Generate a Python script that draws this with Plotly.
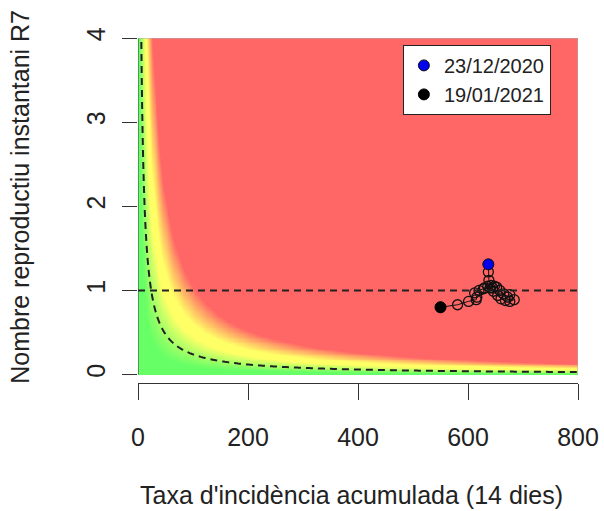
import numpy as np
import plotly.graph_objects as go

# trajectory 23/12/2020 -> 19/01/2021 (IA14, R7)
ia14 = [637, 637, 638, 642, 648, 636, 630, 645, 652, 658, 665, 672, 676, 684,
        676, 668, 660, 654, 646, 640, 628, 620, 612, 616, 615, 601, 581, 550]
r7 = [1.31, 1.22, 1.12, 1.06, 1.05, 1.05, 1.03, 1.03, 1.04, 1.00, 0.96, 0.92, 0.95, 0.89,
      0.87, 0.88, 0.90, 0.94, 0.99, 1.03, 1.02, 1.00, 0.97, 0.92, 0.89, 0.87, 0.83, 0.80]
first_label = "23/12/2020"
last_label = "19/01/2021"

x_ticks = [0, 200, 400, 600, 800]
y_ticks = [0, 1, 2, 3, 4]
epg_curve = 24  # level of the dashed hyperbola (IA14 * R7)

# background risk surface: IA14 * R7
gx = np.arange(2, 800, 4)
gy = np.arange(0.01, 4.0, 0.02)
gz = np.outer(gy, gx)

risk_scale = [[0, "#66FF66"], [0.08, "#66FF66"], [0.375, "#FFFF66"],
              [0.5, "#FFFF66"], [0.875, "#FF6666"], [1, "#FF6666"]]

fig = go.Figure()
fig.add_trace(go.Heatmap(x=gx, y=gy, z=gz, zmin=0, zmax=120, colorscale=risk_scale,
                         zsmooth="best", showscale=False, hoverinfo="skip"))
fig.add_trace(go.Contour(x=gx, y=gy, z=gz, autocontour=False,
                         contours=dict(start=epg_curve, end=epg_curve, size=1, coloring="none"),
                         line=dict(color="#222", width=2, dash="7px,5px"),
                         showscale=False, showlegend=False, hoverinfo="skip"))
fig.add_trace(go.Scatter(x=ia14, y=r7, mode="lines+markers", showlegend=False,
                         line=dict(color="#111", width=1),
                         marker=dict(size=10, color="rgba(0,0,0,0)", line=dict(color="#111", width=1.3))))
fig.add_trace(go.Scatter(x=ia14[:1], y=r7[:1], mode="markers", name=first_label,
                         marker=dict(size=11, color="#0000EE", line=dict(color="#111", width=1))))
fig.add_trace(go.Scatter(x=ia14[-1:], y=r7[-1:], mode="markers", name=last_label,
                         marker=dict(size=11, color="#000", line=dict(color="#000", width=1))))

# R = 1 reference line, y-axis line and border of the surface
fig.add_shape(type="line", x0=0, x1=800, y0=1, y1=1, xref="x", yref="y",
              line=dict(color="#222", width=2, dash="7px,5px"))
fig.add_shape(type="line", x0=0, x1=0, y0=0, y1=4, xref="x", yref="y",
              line=dict(color="#333", width=1))
fig.add_shape(type="line", x0=0, x1=800, y0=4, y1=4, xref="x", yref="y",
              line=dict(color="#aaa", width=1))
fig.add_shape(type="line", x0=800, x1=800, y0=0, y1=4, xref="x", yref="y",
              line=dict(color="#aaa", width=1))

font_family = "Liberation Sans, Arial, sans-serif"
fig.update_layout(
    width=604, height=511,
    margin=dict(l=138, r=26, t=38, b=128),
    plot_bgcolor="white", paper_bgcolor="white",
    font=dict(family=font_family, color="#222", size=25),
    showlegend=True,
    legend=dict(x=0.602, y=0.98, xanchor="left", yanchor="top",
                bgcolor="white", bordercolor="#222", borderwidth=1,
                font=dict(size=20, color="#222"), tracegroupgap=2),
    xaxis=dict(range=[0, 800], tickvals=x_ticks, showgrid=False, zeroline=False,
               showline=True, linecolor="#333", linewidth=1, automargin=False,
               ticks="outside", ticklen=16, tickcolor="#333", ticklabelstandoff=16),
    yaxis=dict(range=[-0.1, 4], tickvals=y_ticks, showgrid=False, zeroline=False,
               showline=False, ticks="outside", ticklen=15, tickcolor="#333",
               tickangle=-90, ticklabelstandoff=7, automargin=False),
)
fig.add_annotation(text="Taxa d'incidència acumulada (14 dies)", xref="paper", yref="paper",
                   x=0.486, y=-0.325, showarrow=False, xanchor="center", yanchor="middle",
                   font=dict(size=25))
fig.add_annotation(text="Nombre reproductiu instantani R7", xref="paper", yref="paper",
                   x=-0.268, y=0.54, showarrow=False, xanchor="center", yanchor="middle",
                   textangle=-90, font=dict(size=25))

# drop the page's default body margin so the figure sits at the window's corner
fig.write_html("out.html", config={"displayModeBar": False},
               post_script="document.body.style.margin='0';")
